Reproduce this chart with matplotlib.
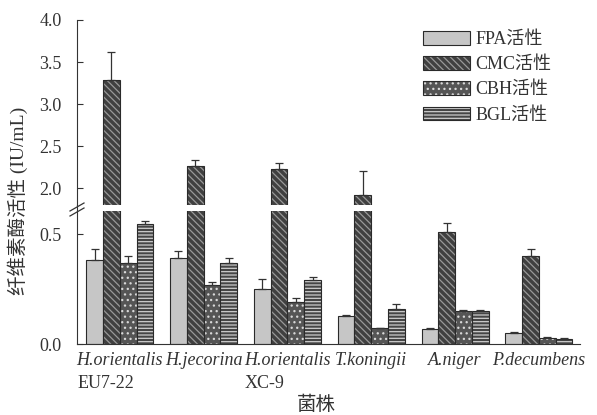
import matplotlib
matplotlib.use("Agg")
import matplotlib.pyplot as plt
import matplotlib.patches as mpatches
from matplotlib.lines import Line2D
import numpy as np

plt.rcParams["font.family"] = ["Liberation Serif", "Noto Sans CJK SC"]
plt.rcParams["hatch.linewidth"] = 0.9

# strain names: species (italic) and strain code (plain, second line)
species = ["H.orientalis", "H.jecorina", "H.orientalis", "T.koningii",
           "A.niger", "P.decumbens"]
strain_codes = ["EU7-22", "", "XC-9", "", "", ""]
series = ["FPA活性", "CMC活性", "CBH活性", "BGL活性"]

fpa = [0.38, 0.39, 0.25, 0.127, 0.068, 0.05]
fpa_err = [0.05, 0.035, 0.045, 0.004, 0.004, 0.004]
cmc = [3.29, 2.26, 2.23, 1.92, 0.51, 0.40]
cmc_err = [0.33, 0.07, 0.07, 0.29, 0.04, 0.03]
cbh = [0.37, 0.27, 0.19, 0.072, 0.15, 0.027]
cbh_err = [0.03, 0.012, 0.02, 0.003, 0.003, 0.003]
bgl = [0.545, 0.37, 0.29, 0.16, 0.15, 0.025]
bgl_err = [0.015, 0.02, 0.015, 0.02, 0.003, 0.003]

values = [fpa, cmc, cbh, bgl]
errors = [fpa_err, cmc_err, cbh_err, bgl_err]

# face colour, hatch, hatch colour
styles = [
    ("#c6c6c6", None, "#c6c6c6"),
    ("#404040", "\\\\\\\\\\", "#999999"),
    ("#555555", "...", "#d8d8d8"),
    ("#454545", "-----", "#cccccc"),
]
edge = "#2a2a2a"
txt = "#333333"
fs = 13

W, H = 597, 415
fig = plt.figure(figsize=(W / 100, H / 100), dpi=100)
left, right = 77 / W, 580 / W
ax_top = fig.add_axes([left, 1 - 205 / H, right - left, (205 - 20) / H])
ax_bot = fig.add_axes([left, 1 - 344 / H, right - left, (344 - 211) / H])

x = np.arange(len(species))
w = 0.2
for ax in (ax_top, ax_bot):
    for k, (vals, errs) in enumerate(zip(values, errors)):
        face, hatch, hcol = styles[k]
        xs = x + (k - 1.5) * w
        ax.bar(xs, vals, w, color=face, edgecolor=hcol, hatch=hatch, lw=0)
        ax.bar(xs, vals, w, fill=False, edgecolor=edge, lw=0.8)
        ax.errorbar(xs, vals, yerr=[np.zeros(len(vals)), errs], fmt="none",
                    ecolor=txt, elinewidth=0.9, capsize=3, capthick=0.9)
    ax.set_xlim(-0.51, 5.49)
    for s in ("top", "right"):
        ax.spines[s].set_visible(False)
    ax.spines["left"].set_color(txt)
    ax.tick_params(axis="y", direction="in", length=4, width=0.8,
                   colors=txt, labelsize=fs, pad=11)

ax_top.set_ylim(1.8, 4.0)
ax_top.set_yticks([2.0, 2.5, 3.0, 3.5, 4.0])
ax_top.set_yticklabels(["2.0", "2.5", "3.0", "3.5", "4.0"])
ax_top.spines["bottom"].set_visible(False)
ax_top.set_xticks([])

ax_bot.set_ylim(0, 0.605)
ax_bot.set_yticks([0.0, 0.5])
ax_bot.set_yticklabels(["0.0", "0.5"])
ax_bot.spines["bottom"].set_color(txt)
ax_bot.set_xticks(x)
ax_bot.set_xticklabels(species, fontsize=fs, color=txt, fontstyle="italic")
ax_bot.tick_params(axis="x", length=0, pad=6)

# strain code under the species name, left aligned with it
for lab, code in zip(ax_bot.get_xticklabels(), strain_codes):
    if code:
        ax_bot.annotate(code, xy=(0, 0), xycoords=lab, xytext=(0.5, -4),
                        textcoords="offset points", ha="left", va="top",
                        fontsize=fs, color=txt)

# axis break
for dy in (0, 5):
    fig.add_artist(Line2D([70 / W, 84 / W], [1 - (211 + dy) / H, 1 - (203 + dy) / H],
                          color=txt, lw=0.9))
fig.add_artist(Line2D([left, left], [1 - 205 / H, 1 - 211 / H], color=txt, lw=0.8))

handles = []
for face, hatch, hcol in styles:
    p1 = mpatches.Patch(facecolor=face, edgecolor=hcol, hatch=hatch, lw=0)
    p2 = mpatches.Patch(fill=False, edgecolor=edge, lw=0.8)
    handles.append((p1, p2))
ax_top.legend(handles, series, loc="upper left",
              bbox_to_anchor=(423 / W, 1 - 31 / H), bbox_transform=fig.transFigure,
              frameon=False, fontsize=fs, handlelength=2.6, handleheight=0.78,
              labelspacing=0.45, handletextpad=0.3, borderpad=0, borderaxespad=0,
              labelcolor=txt)

fig.text(18 / W, 1 - 201 / H, "纤维素酶活性 (IU/mL)", rotation=90,
         ha="center", va="center", fontsize=14, color=txt)
fig.text(316 / W, 1 - 405 / H, "菌株", ha="center", va="center",
         fontsize=14, color=txt)

fig.savefig("out.png", dpi=100)
